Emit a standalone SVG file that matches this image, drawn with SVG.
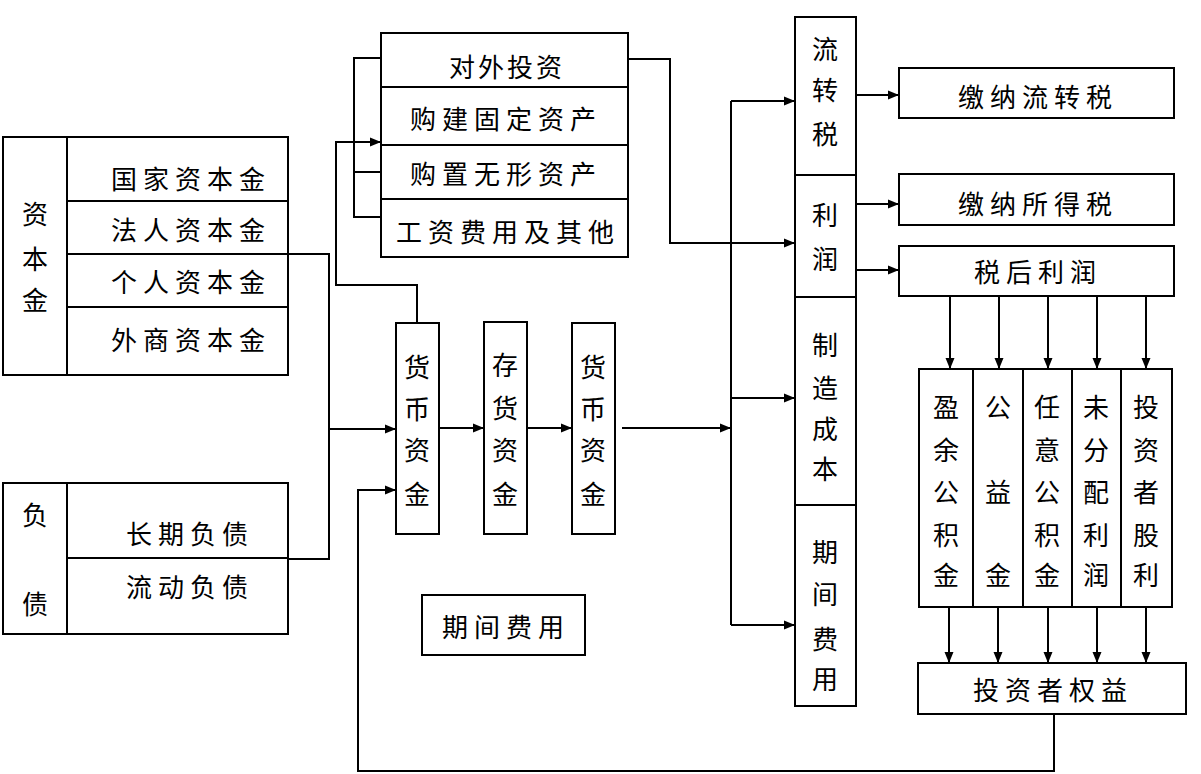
<svg xmlns="http://www.w3.org/2000/svg" width="1201" height="774" viewBox="0 0 1201 774">
<defs>
<marker id="ah" markerUnits="userSpaceOnUse" markerWidth="12" markerHeight="10" refX="11" refY="5" orient="auto">
<path d="M0,0.5 L11,5 L0,9.5 z" fill="#000"/>
</marker>
<style>
.box{fill:#fff;stroke:#000;stroke-width:2}
.ln{fill:none;stroke:#000;stroke-width:2}
.ar{fill:none;stroke:#000;stroke-width:2;marker-end:url(#ah)}
.t{font-family:"Noto Sans CJK SC","Noto Sans CJK TC",sans-serif;font-size:26px;fill:#000;text-anchor:middle;dominant-baseline:central}
.s6{letter-spacing:6px}
.s3{letter-spacing:3px}
</style>
</defs>
<rect width="1201" height="774" fill="#fff"/>

<g id="connectors">
<polyline class="ln" points="288,254 329,254 329,559 288,559"/>
<line class="ar" x1="329" y1="429" x2="396" y2="429"/>
<polyline class="ar" points="417,323 417,285 336,285 336,142 381,142"/>
<polyline class="ln" points="381,58 354,58 354,217 381,217"/>
<line class="ln" x1="354" y1="172" x2="381" y2="172"/>
<polyline class="ar" points="628,59 670,59 670,243 795,243"/>
<line class="ln" x1="731" y1="101" x2="731" y2="625"/>
<line class="ar" x1="731" y1="101" x2="795" y2="101"/>
<line class="ar" x1="731" y1="398" x2="795" y2="398"/>
<line class="ar" x1="731" y1="625" x2="795" y2="625"/>
<line class="ar" x1="439" y1="428" x2="484" y2="428"/>
<line class="ar" x1="527" y1="428" x2="572" y2="428"/>
<line class="ar" x1="622" y1="428" x2="731" y2="428"/>
<line class="ar" x1="856" y1="95" x2="899" y2="95"/>
<line class="ar" x1="856" y1="204" x2="899" y2="204"/>
<line class="ar" x1="856" y1="270" x2="899" y2="270"/>
<line class="ar" x1="950" y1="296" x2="950" y2="369"/>
<line class="ar" x1="999" y1="296" x2="999" y2="369"/>
<line class="ar" x1="1048" y1="296" x2="1048" y2="369"/>
<line class="ar" x1="1097" y1="296" x2="1097" y2="369"/>
<line class="ar" x1="1146" y1="296" x2="1146" y2="369"/>
<line class="ar" x1="949" y1="607" x2="949" y2="663"/>
<line class="ar" x1="998" y1="607" x2="998" y2="663"/>
<line class="ar" x1="1048" y1="607" x2="1048" y2="663"/>
<line class="ar" x1="1097" y1="607" x2="1097" y2="663"/>
<line class="ar" x1="1146" y1="607" x2="1146" y2="663"/>
<polyline class="ar" points="1054,714 1054,771 358,771 358,490 396,490"/>
</g>

<g id="ziben">
<rect class="box" x="3" y="137" width="285" height="238"/>
<line class="ln" x1="67" y1="137" x2="67" y2="375"/>
<line class="ln" x1="67" y1="201" x2="288" y2="201"/>
<line class="ln" x1="67" y1="254" x2="288" y2="254"/>
<line class="ln" x1="67" y1="307" x2="288" y2="307"/>
<text class="t" x="35" y="212">资</text>
<text class="t" x="35" y="257">本</text>
<text class="t" x="35" y="298">金</text>
<text class="t s6" x="191" y="177">国家资本金</text>
<text class="t s6" x="191" y="228">法人资本金</text>
<text class="t s6" x="191" y="280">个人资本金</text>
<text class="t s6" x="191" y="338">外商资本金</text>
</g>

<g id="fuzhai">
<rect class="box" x="3" y="483" width="285" height="151"/>
<line class="ln" x1="67" y1="483" x2="67" y2="634"/>
<line class="ln" x1="67" y1="558" x2="288" y2="558"/>
<text class="t" x="35" y="513">负</text>
<text class="t" x="35" y="602">债</text>
<text class="t s6" x="190" y="532">长期负债</text>
<text class="t s6" x="190" y="585">流动负债</text>
</g>

<g id="zhichu">
<rect class="box" x="381" y="33" width="247" height="224"/>
<line class="ln" x1="381" y1="87" x2="628" y2="87"/>
<line class="ln" x1="381" y1="145" x2="628" y2="145"/>
<line class="ln" x1="381" y1="199" x2="628" y2="199"/>
<text class="t s3" x="507" y="65">对外投资</text>
<text class="t s6" x="506" y="117">购建固定资产</text>
<text class="t s6" x="506" y="172">购置无形资产</text>
<text class="t s6" x="508" y="230">工资费用及其他</text>
</g>

<g id="huobi1">
<rect class="box" x="396" y="323" width="43" height="211"/>
<text class="t" x="417" y="365">货</text>
<text class="t" x="417" y="407">币</text>
<text class="t" x="417" y="448">资</text>
<text class="t" x="417" y="492">金</text>
</g>

<g id="cunhuo">
<rect class="box" x="484" y="322" width="43" height="212"/>
<text class="t" x="505" y="363">存</text>
<text class="t" x="505" y="406">货</text>
<text class="t" x="505" y="448">资</text>
<text class="t" x="505" y="492">金</text>
</g>

<g id="huobi2">
<rect class="box" x="572" y="323" width="43" height="211"/>
<text class="t" x="593" y="365">货</text>
<text class="t" x="593" y="407">币</text>
<text class="t" x="593" y="448">资</text>
<text class="t" x="593" y="492">金</text>
</g>

<g id="qijianfeiyong-mid">
<rect class="box" x="422" y="595" width="163" height="60"/>
<text class="t s6" x="506" y="625">期间费用</text>
</g>

<g id="fenpei">
<rect class="box" x="795" y="17" width="61" height="689"/>
<line class="ln" x1="795" y1="175" x2="856" y2="175"/>
<line class="ln" x1="795" y1="297" x2="856" y2="297"/>
<line class="ln" x1="795" y1="505" x2="856" y2="505"/>
<text class="t" x="825" y="47">流</text>
<text class="t" x="825" y="88">转</text>
<text class="t" x="825" y="132">税</text>
<text class="t" x="825" y="213">利</text>
<text class="t" x="825" y="257">润</text>
<text class="t" x="825" y="343">制</text>
<text class="t" x="825" y="386">造</text>
<text class="t" x="825" y="427">成</text>
<text class="t" x="825" y="467">本</text>
<text class="t" x="825" y="550">期</text>
<text class="t" x="825" y="592">间</text>
<text class="t" x="825" y="637">费</text>
<text class="t" x="825" y="677">用</text>
</g>

<g id="liuzhuanshui">
<rect class="box" x="899" y="68" width="275" height="50"/>
<text class="t s6" x="1038" y="95">缴纳流转税</text>
</g>

<g id="suodeshui">
<rect class="box" x="899" y="174" width="275" height="51"/>
<text class="t s6" x="1038" y="202">缴纳所得税</text>
</g>

<g id="shuihou">
<rect class="box" x="899" y="246" width="275" height="50"/>
<text class="t s6" x="1038" y="270">税后利润</text>
</g>

<g id="yingyu">
<rect class="box" x="919" y="369" width="54" height="238"/>
<text class="t" x="946" y="405">盈</text>
<text class="t" x="946" y="448">余</text>
<text class="t" x="946" y="490">公</text>
<text class="t" x="946" y="533">积</text>
<text class="t" x="946" y="573">金</text>
</g>

<g id="gongyi">
<rect class="box" x="973" y="369" width="50" height="238"/>
<text class="t" x="998" y="405">公</text>
<text class="t" x="998" y="490">益</text>
<text class="t" x="998" y="573">金</text>
</g>

<g id="renyi">
<rect class="box" x="1023" y="369" width="49" height="238"/>
<text class="t" x="1047" y="405">任</text>
<text class="t" x="1047" y="448">意</text>
<text class="t" x="1047" y="490">公</text>
<text class="t" x="1047" y="533">积</text>
<text class="t" x="1047" y="573">金</text>
</g>

<g id="weifenpei">
<rect class="box" x="1072" y="369" width="49" height="238"/>
<text class="t" x="1096" y="405">未</text>
<text class="t" x="1096" y="448">分</text>
<text class="t" x="1096" y="490">配</text>
<text class="t" x="1096" y="533">利</text>
<text class="t" x="1096" y="573">润</text>
</g>

<g id="guli">
<rect class="box" x="1121" y="369" width="51" height="238"/>
<text class="t" x="1146" y="405">投</text>
<text class="t" x="1146" y="448">资</text>
<text class="t" x="1146" y="490">者</text>
<text class="t" x="1146" y="533">股</text>
<text class="t" x="1146" y="573">利</text>
</g>

<g id="quanyi">
<rect class="box" x="918" y="663" width="268" height="51"/>
<text class="t s6" x="1053" y="688">投资者权益</text>
</g>
</svg>
